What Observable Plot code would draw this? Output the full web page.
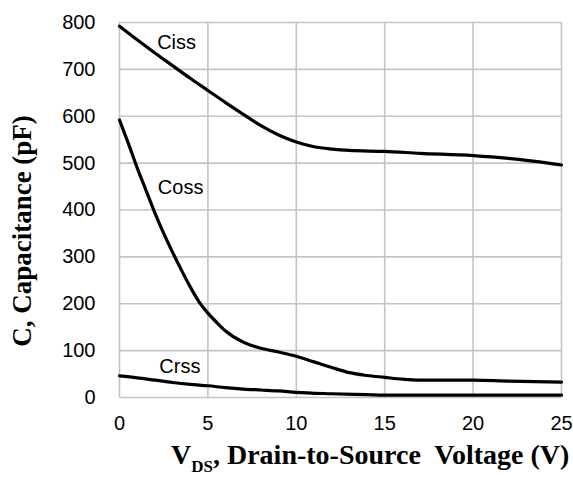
<!DOCTYPE html>
<html><head><meta charset="utf-8">
<script src="https://cdn.jsdelivr.net/npm/d3@7"></script>
<script src="https://cdn.jsdelivr.net/npm/@observablehq/plot@0.6"></script>
<style>html,body{margin:0;padding:0;background:#fff}</style>
</head><body><div id="chart"></div>
<script>
// Drain-to-source voltage (V) and capacitance (pF) per series
const cissV = [0, 1, 2, 3, 4, 5, 6, 7, 8, 9, 10, 11, 12, 13, 15, 17, 20, 22, 25];
const ciss  = [792, 763, 735, 708, 681, 655, 629, 604, 580, 560, 545, 535, 530, 527, 525, 521, 516, 510, 496];

const cossV = [0, 0.5, 1, 1.5, 2, 2.5, 3, 3.5, 4, 4.5, 5, 5.5, 6, 7, 8, 9, 10, 11, 12, 13, 14, 15, 16, 17, 20, 22, 25];
const coss  = [592, 542, 490, 442, 394, 350, 310, 272, 236, 204, 180, 160, 142, 118, 105, 97, 88, 76, 64, 53, 47, 43, 39, 37, 37, 35, 33];

const crssV = [0, 1, 2, 3, 4, 5, 6, 7, 8, 9, 10, 12, 14, 15, 20, 25];
const crss  = [46, 42, 37, 32, 28, 25, 21, 18, 16, 14, 11, 8, 6, 5, 5, 5];

const seriesNames = ["Ciss", "Coss", "Crss"];
const labelV = [2.13, 2.17, 2.25];
const labelC = [757, 448, 65];

const xTicks = [0, 5, 10, 15, 20, 25];
const yTicks = [0, 100, 200, 300, 400, 500, 600, 700, 800];

const xTitleMain = "V";
const xTitleSub = "DS";
const xTitleRest = ", Drain-to-Source  Voltage (V)";
const yTitle = "C, Capacitance (pF)";

const seriesV = [cissV, cossV, crssV];
const seriesC = [ciss, coss, crss];
const rows = seriesNames.flatMap((name, i) =>
  seriesV[i].map((v, j) => ({series: name, v, c: seriesC[i][j]})));
const labels = seriesNames.map((name, i) => ({name, v: labelV[i], c: labelC[i]}));

const W = 573, H = 477;
const mL = 119, mR = 12, mT = 22, mB = 80;
const serif = "'Liberation Serif', 'Times New Roman', serif";

const chart = Plot.plot({
  width: W,
  height: H,
  marginLeft: mL,
  marginRight: mR,
  marginTop: mT,
  marginBottom: mB,
  style: {fontFamily: "'Liberation Sans', Arial, sans-serif", fontSize: "20px", color: "#000", background: "#fff"},
  x: {domain: [0, 25]},
  y: {domain: [0, 800]},
  marks: [
    Plot.gridX(xTicks, {stroke: "#c4c4c4", strokeOpacity: 1, strokeWidth: 1.6}),
    Plot.gridY(yTicks, {stroke: "#c4c4c4", strokeOpacity: 1, strokeWidth: 1.6}),
    Plot.axisX(xTicks, {tickSize: 0, tickPadding: 18, label: null, fontSize: 20}),
    Plot.axisY(yTicks, {tickSize: 0, tickPadding: 24, label: null, fontSize: 20}),
    Plot.line(rows, {x: "v", y: "c", z: "series", stroke: "#000", strokeWidth: 3.2, curve: "monotone-x"}),
    Plot.text(labels, {x: "v", y: "c", text: "name", textAnchor: "start", fontSize: 20, fill: "#000"}),
    Plot.text([yTitle], {frameAnchor: "left", textAnchor: "middle", dx: -(mL - 22), dy: 21, rotate: -90,
      fontFamily: serif, fontWeight: "bold", fontSize: 27, fill: "#000"})
  ]
});

const svg = d3.select(chart);
const t = svg.append("text")
  .attr("x", 171).attr("y", 464)
  .attr("text-anchor", "start")
  .attr("font-family", serif)
  .attr("font-weight", "bold")
  .attr("font-size", 28)
  .attr("fill", "#000")
  .style("white-space", "pre");
t.append("tspan").text(xTitleMain);
t.append("tspan").attr("font-size", 17).attr("dy", 8).text(xTitleSub);
t.append("tspan").attr("dy", -8).text(xTitleRest);

document.getElementById("chart").appendChild(chart);
</script>
</body></html>
